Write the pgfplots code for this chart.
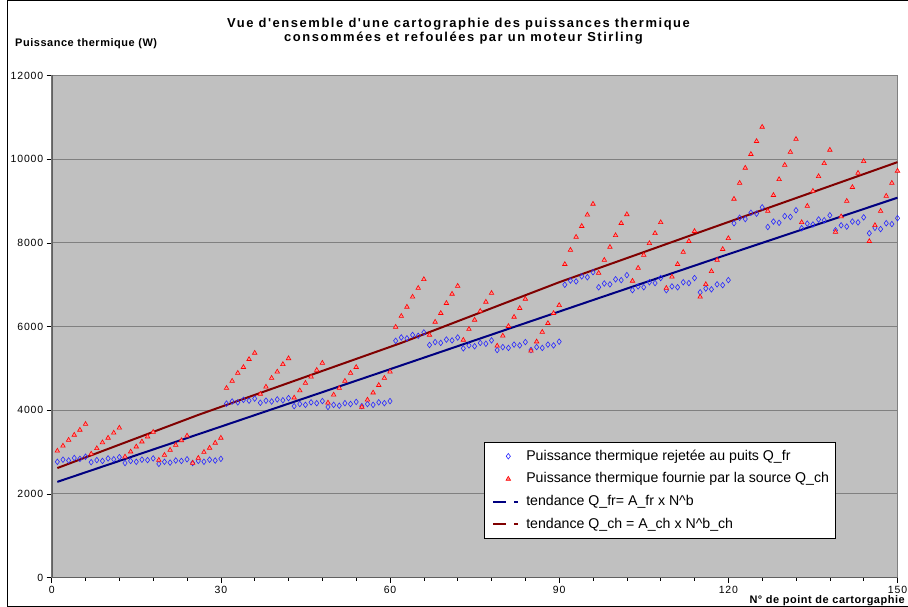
\documentclass[border=0pt]{standalone}
\usepackage{fontspec}
\setmainfont{Liberation Sans}
\newfontfamily\titlefont[LetterSpace=12]{Liberation Sans}
\newfontfamily\labfont[LetterSpace=5]{Liberation Sans}
\newfontfamily\tickfont[LetterSpace=8]{Liberation Sans}
\usepackage{pgfplots}
\pgfplotsset{compat=1.18}
\definecolor{bggray}{HTML}{C0C0C0}
\definecolor{gridgray}{HTML}{808080}
\definecolor{axgray}{HTML}{606060}
\definecolor{frblue}{HTML}{2828FF}
\definecolor{chred}{HTML}{FF0000}
\definecolor{chfill}{HTML}{FF8C8C}
\definecolor{trnavy}{HTML}{000080}
\definecolor{trred}{HTML}{800000}
\begin{document}
\begin{tikzpicture}
\useasboundingbox (0bp,0bp) rectangle (908bp,607bp);
\fill[white] (0bp,0bp) rectangle (908bp,607bp);
\draw[black, line width=1bp] (7bp,1bp) rectangle (912bp,606bp);
\begin{axis}[
  at={(51.7bp,29.3bp)}, anchor=south west,
  scale only axis, width=845.8bp, height=502.2bp,
  xmin=0, xmax=150, ymin=0, ymax=12000,
  axis background/.style={fill=bggray},
  axis line style={draw=gridgray, line width=0.8bp},
  xtick={0,30,60,90,120,150}, minor x tick num=4,
  ytick={0,2000,4000,6000,8000,10000,12000},
  scaled ticks=false,
  /pgf/number format/1000 sep={},
  /pgf/number format/assume math mode=true,
  ymajorgrids, major grid style={draw=gridgray, line width=1bp},
  tick align=outside, tick pos=left,
  major tick length=5bp, minor tick length=3bp,
  every tick/.style={black, line width=0.6bp},
  ticklabel style={font=\tickfont\fontsize{10.5}{12}\selectfont},
  legend cell align=left,
  legend style={at={(0.511,0.270)}, anchor=north west, draw=black, line width=0.8bp, fill=white,
    inner xsep=4bp, inner ysep=5bp, row sep=5.2bp,
    font=\fontsize{14.2}{16}\selectfont,
    nodes={inner xsep=2bp, inner ysep=2bp, text height=10.5bp, text depth=3bp}},
]
\addplot[only marks, mark=diamond, mark size=2.8bp, mark options={draw=frblue, fill=none, line width=0.6bp},
  legend image code/.code={\path (0bp,0bp) (34bp,0bp); \draw[only marks] plot coordinates {(19bp,0bp)};}]
coordinates {
(1,2770)(2,2820)(3,2800)(4,2860)(5,2840)(6,2890)
(7,2760)(8,2810)(9,2790)(10,2850)(11,2830)(12,2880)
(13,2740)(14,2790)(15,2770)(16,2820)(17,2810)(18,2850)
(19,2720)(20,2770)(21,2750)(22,2800)(23,2790)(24,2830)
(25,2740)(26,2790)(27,2770)(28,2820)(29,2800)(30,2840)
(31,4160)(32,4210)(33,4190)(34,4250)(35,4230)(36,4280)
(37,4180)(38,4230)(39,4210)(40,4260)(41,4240)(42,4290)
(43,4100)(44,4150)(45,4130)(46,4190)(47,4170)(48,4220)
(49,4080)(50,4130)(51,4110)(52,4170)(53,4150)(54,4200)
(55,4100)(56,4150)(57,4130)(58,4190)(59,4170)(60,4220)
(61,5660)(62,5740)(63,5720)(64,5800)(65,5780)(66,5860)
(67,5560)(68,5630)(69,5610)(70,5690)(71,5670)(72,5740)
(73,5480)(74,5550)(75,5530)(76,5610)(77,5590)(78,5670)
(79,5440)(80,5510)(81,5490)(82,5570)(83,5550)(84,5630)
(85,5440)(86,5510)(87,5490)(88,5570)(89,5550)(90,5640)
(91,7000)(92,7100)(93,7080)(94,7200)(95,7180)(96,7300)
(97,6940)(98,7030)(99,7010)(100,7130)(101,7110)(102,7230)
(103,6870)(104,6960)(105,6940)(106,7060)(107,7040)(108,7160)
(109,6870)(110,6960)(111,6940)(112,7060)(113,7040)(114,7160)
(115,6820)(116,6910)(117,6890)(118,7010)(119,6990)(120,7110)
(121,8470)(122,8600)(123,8570)(124,8720)(125,8700)(126,8850)
(127,8380)(128,8510)(129,8480)(130,8640)(131,8620)(132,8780)
(133,8350)(134,8460)(135,8440)(136,8560)(137,8540)(138,8660)
(139,8300)(140,8420)(141,8390)(142,8510)(143,8490)(144,8610)
(145,8230)(146,8360)(147,8330)(148,8470)(149,8450)(150,8590)
};
\addlegendentry{Puissance thermique rejetée au puits Q\_fr}
\addplot[only marks, mark=triangle*, mark size=2.6bp, mark options={draw=chred, fill=chfill, line width=0.6bp},
  legend image code/.code={\path (0bp,0bp) (34bp,0bp); \draw[only marks] plot coordinates {(19bp,0bp)};}]
coordinates {
(1,3030)(2,3150)(3,3290)(4,3410)(5,3530)(6,3670)
(7,2960)(8,3090)(9,3230)(10,3340)(11,3460)(12,3580)
(13,2890)(14,3010)(15,3130)(16,3250)(17,3370)(18,3480)
(19,2810)(20,2930)(21,3050)(22,3170)(23,3280)(24,3390)
(25,2740)(26,2860)(27,3000)(28,3100)(29,3220)(30,3340)
(31,4530)(32,4700)(33,4890)(34,5030)(35,5220)(36,5370)
(37,4390)(38,4560)(39,4770)(40,4920)(41,5100)(42,5240)
(43,4300)(44,4470)(45,4650)(46,4800)(47,4960)(48,5130)
(49,4180)(50,4370)(51,4530)(52,4700)(53,4890)(54,5030)
(55,4080)(56,4250)(57,4420)(58,4600)(59,4770)(60,4920)
(61,5990)(62,6250)(63,6470)(64,6710)(65,6920)(66,7130)
(67,5800)(68,6110)(69,6320)(70,6560)(71,6780)(72,6970)
(73,5680)(74,5940)(75,6160)(76,6370)(77,6590)(78,6800)
(79,5540)(80,5780)(81,6010)(82,6230)(83,6440)(84,6660)
(85,5420)(86,5640)(87,5870)(88,6080)(89,6320)(90,6510)
(91,7490)(92,7830)(93,8140)(94,8400)(95,8670)(96,8930)
(97,7280)(98,7590)(99,7900)(100,8180)(101,8470)(102,8680)
(103,7090)(104,7400)(105,7710)(106,7990)(107,8230)(108,8490)
(109,6920)(110,7190)(111,7490)(112,7780)(113,8040)(114,8280)
(115,6710)(116,7010)(117,7320)(118,7590)(119,7850)(120,8110)
(121,9050)(122,9430)(123,9790)(124,10120)(125,10430)(126,10770)
(127,8760)(128,9140)(129,9520)(130,9860)(131,10170)(132,10480)
(133,8490)(134,8880)(135,9240)(136,9590)(137,9900)(138,10220)
(139,8260)(140,8630)(141,9000)(142,9330)(143,9670)(144,9950)
(145,8040)(146,8420)(147,8760)(148,9120)(149,9430)(150,9720)
};
\addlegendentry{Puissance thermique fournie par la source Q\_ch}
\addplot[trnavy, line width=2bp, no marks,
  legend image code/.code={\path (0bp,0bp) (34bp,0bp); \draw (3.7bp,0bp) -- (17bp,0bp); \draw (24.7bp,0bp) -- (28.7bp,0bp);}]
coordinates {(1,2290) (30,3610) (58,4890) (97,6680) (120,7730) (150,9080)};
\addlegendentry{tendance Q\_fr= A\_fr x N\textasciicircum b}
\addplot[trred, line width=2bp, no marks,
  legend image code/.code={\path (0bp,0bp) (34bp,0bp); \draw (3.7bp,0bp) -- (17bp,0bp); \draw (24.7bp,0bp) -- (28.7bp,0bp);}]
coordinates {(1,2620) (26,3890) (62,5610) (90,7060) (115,8260) (150,9930)};
\addlegendentry{tendance Q\_ch = A\_ch x N\textasciicircum b\_ch}
\draw[axgray, line width=1.6bp] (rel axis cs:0,1) -- (rel axis cs:0,0) -- (rel axis cs:1,0);
\end{axis}
\node[anchor=base, inner sep=0pt, font=\titlefont\bfseries\fontsize{13}{15}\selectfont] at (458.5bp,579.3bp) {Vue d'ensemble d'une cartographie des puissances thermique};
\node[anchor=base, inner sep=0pt, font=\titlefont\bfseries\fontsize{13}{15}\selectfont] at (463.5bp,565.3bp) {consommées et refoulées par un moteur Stirling};
\node[anchor=base west, inner sep=0pt, font=\labfont\bfseries\fontsize{11}{13}\selectfont] at (15bp,560.3bp) {Puissance thermique (W)};
\node[anchor=base east, inner sep=0pt, font=\labfont\bfseries\fontsize{11}{13}\selectfont] at (905bp,4bp) {N° de point de cartorgaphie};
\end{tikzpicture}
\end{document}
